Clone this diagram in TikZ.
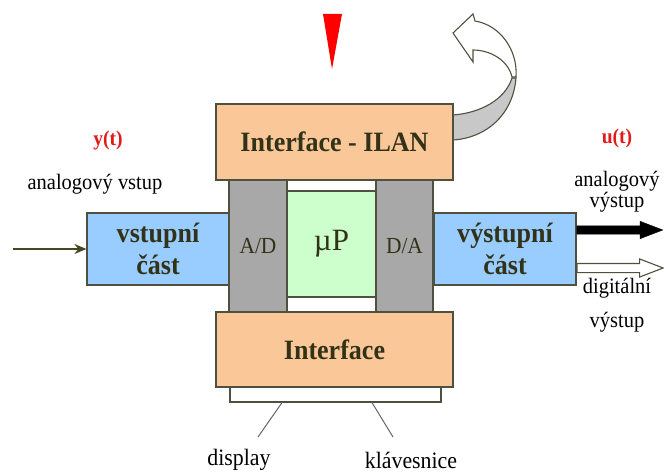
\documentclass[tikz,border=0pt]{standalone}
\usepackage{fontspec}
\setmainfont{Liberation Serif}
\newfontfamily\condserif[FakeStretch=0.93]{Liberation Serif}
\usetikzlibrary{arrows.meta,shapes.arrows}

\definecolor{peach}{RGB}{250,200,152}
\definecolor{skyblue}{RGB}{153,204,255}
\definecolor{mint}{RGB}{204,255,204}
\definecolor{colgray}{RGB}{168,168,168}
\definecolor{edge}{RGB}{80,80,64}
\definecolor{ink}{RGB}{50,50,25}
\definecolor{sigred}{RGB}{225,25,25}
\definecolor{bandgray}{RGB}{200,200,200}
\definecolor{olive}{RGB}{70,70,35}

\newcommand{\boxfont}{\condserif\fontsize{28}{32}\selectfont\bfseries}
\newcommand{\lblfont}{\condserif\fontsize{22}{22}\selectfont}

\begin{document}
\begin{tikzpicture}[x=1pt,y=-1pt,
  blk/.style={draw=edge, line width=1.2pt, inner sep=0pt, text=ink, align=center},
  lbl/.style={inner sep=1pt, align=center, font=\lblfont},
  sig/.style={inner sep=1pt, text=sigred, font=\condserif\fontsize{21}{22}\selectfont\bfseries},
  outarrow/.style={single arrow, minimum height=86pt, inner sep=4pt,
    single arrow head extend=4.5pt, single arrow tip angle=42, anchor=tail},
  leader/.style={draw=black!60, line width=1pt}]
\useasboundingbox (0,0) rectangle (664,473);

% converter columns and the processor core
\node[blk, fill=colgray, minimum width=58pt, minimum height=132pt,
      font=\condserif\fontsize{23}{24}\selectfont] (ad) at (258,246) {A/D};
\node[blk, fill=colgray, minimum width=57pt, minimum height=132pt,
      font=\condserif\fontsize{23}{24}\selectfont] (da) at (404.5,246) {D/A};
\node[blk, fill=white, minimum width=89pt, minimum height=132pt] (mid) at (331.5,246) {};
\node[blk, fill=mint, minimum width=89pt, minimum height=106pt,
      font=\fontsize{31}{32}\selectfont] (up) at (331.5,244) {µP};

% input and output stages
\node[blk, fill=skyblue, minimum width=142pt, minimum height=72pt, font=\boxfont]
  (vst) at (158,249) {vstupní\\část};
\node[blk, fill=skyblue, minimum width=142pt, minimum height=72pt, font=\boxfont]
  (vyst) at (505,249) {výstupní\\část};

% interfaces
\node[blk, fill=peach, minimum width=237pt, minimum height=76pt, font=\boxfont]
  (ilan) at (334.5,142) {Interface - ILAN};
\node[blk, fill=white, minimum width=211pt, minimum height=15pt] (base) at (335.5,394.5) {};
\node[blk, fill=peach, minimum width=237pt, minimum height=75pt, font=\boxfont]
  (iface) at (334.5,349.5) {Interface};

% curved communication arrow leaving the ILAN interface
\filldraw[fill=white, draw=edge, line width=1.1pt]
  (516,77) .. controls (518,50) and (500,25) .. (475,21) -- (473,14) -- (453,33)
  -- (473,62) -- (473,50) .. controls (490,50) and (508,60) .. (512,77) -- cycle;
\filldraw[fill=bandgray, draw=edge, line width=1.1pt]
  (453,115) .. controls (480,113) and (505,100) .. (512,78)
  -- (516,78) .. controls (513,115) and (486,138) .. (453,140) -- cycle;
\draw[edge, line width=2pt] (453,115) -- (453,140);

% red marker above
\fill[red] (323,14) -- (342,14) -- (332,69) -- cycle;

% signal labels
\node[sig] (yt) at (108,140) {y(t)};
\node[lbl] (ain) at (95,184) {analogový vstup};
\node[sig] (ut) at (617,138) {u(t)};
\node[lbl, font=\condserif\fontsize{22}{21}\selectfont] (aoutl) at (617,192) {analogový\\výstup};
\node[lbl] (digl) at (617,288) {digitální};
\node[lbl] (digv) at (617,322) {výstup};

% input signal
\coordinate (inp) at (13,249);
\draw[olive, line width=1.4pt, -{Stealth[length=12pt,width=10pt]}] (inp) -- (vst.west);

% analog and digital outputs
\node[outarrow, fill=black, draw=black] (aout) at ([yshift=19pt]vyst.east) {};
\node[outarrow, fill=white, draw=edge, line width=1.1pt] (dout) at ([yshift=-19pt]vyst.east) {};

% peripherals
\node[lbl, font=\condserif\fontsize{23.5}{24}\selectfont] (display) at (239,460) {display};
\node[lbl, font=\condserif\fontsize{23.5}{24}\selectfont] (keys) at (411,460) {klávesnice};
\coordinate (dl) at (258,437);
\coordinate (kl) at (393,437);
\draw[leader] (base.south -| 282,0) -- (dl);
\draw[leader] (base.south -| 372,0) -- (kl);
\end{tikzpicture}
\end{document}
